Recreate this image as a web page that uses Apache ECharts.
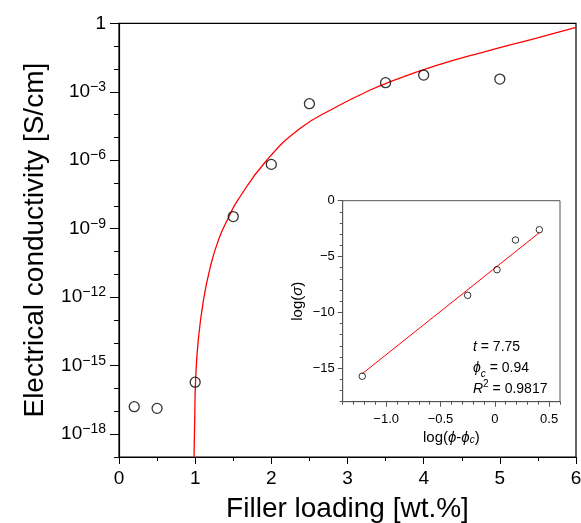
<!DOCTYPE html>
<html>
<head>
<meta charset="utf-8">
<script src="https://cdn.jsdelivr.net/npm/echarts@6/dist/echarts.min.js"></script>
<style>
  html, body { margin: 0; padding: 0; background: #fff; }
  #chart { width: 581px; height: 523px; }
</style>
</head>
<body>
<div id="chart"></div>
<script>
// Measured conductivity [S/cm] vs filler loading [wt.%]
const fillerLoading = [0.2, 0.5, 1.0, 1.5, 2.0, 2.5, 3.5, 4.0, 5.0];
const conductivity = [1.6e-17, 1.35e-17, 1.9e-16, 3.4e-9, 6.6e-7, 3.0e-4, 2.5e-3, 5.4e-3, 3.6e-3];

// Percolation fit curve, sampled along the loading axis
const fitLoading = [0.985, 0.995, 1.005, 1.04, 1.11, 1.20, 1.31, 1.44, 1.56, 1.94, 2.38, 2.82, 3.25, 3.50, 4.15, 4.81, 5.47, 6.00];
const fitConductivity = [1e-19, 6.3e-18, 2.0e-16, 1.26e-14, 7.9e-13, 2.2e-11, 3.5e-10, 3.2e-9, 1.8e-8, 1.0e-6, 2.5e-5, 1.9e-4, 1.0e-3, 2.3e-3, 1.35e-2, 5.8e-2, 0.22, 0.66];

// Axis ranges / ticks
const xTicks = [0, 1, 2, 3, 4, 5, 6];
const yMajorExponents = [-18, -15, -12, -9, -6, -3, 0];
const yMinConductivity = 1e-19;
const yMaxConductivity = 1;

// Inset: log-log percolation plot
const insetLogPhi = [-1.22, -0.25, 0.02, 0.19, 0.41];
const insetLogSigma = [-15.72, -8.47, -6.18, -3.52, -2.60];
const fitT = 7.75;
const fitPhiC = 0.94;
const fitR2 = 0.9817;
const fitIntercept = -6.04;
const fitLineLogPhi = [-1.22, 0.41];
const insetXTicks = [-1.0, -0.5, 0, 0.5];
const insetYTicks = [-15, -10, -5, 0];

const FONT = '"Liberation Sans", Arial, Helvetica, sans-serif';

// main plot box
const main = { left: 119, top: 23.3, width: 457, height: 433.7 };
const mainExpSpan = Math.log10(yMaxConductivity) - Math.log10(yMinConductivity);
const majorSpan = yMajorExponents[yMajorExponents.length - 1] - yMajorExponents[0];
// inset plot box
const inset = { left: 342.7, top: 200.7, width: 217.3, height: 201 };
const insetXMin = -1.4, insetXMax = 0.6, insetYMin = -18, insetYMax = 0;

function box(b, extra) {
  return Object.assign({
    left: b.left, top: b.top, width: b.width, height: b.height,
    containLabel: false, outerBoundsMode: 'none'
  }, extra || {});
}

const minus = v => (v < 0 ? '\u2212' : '');

const fitLineData = fitLineLogPhi.map(x => [x, fitIntercept + fitT * x]);

const chart = echarts.init(document.getElementById('chart'), null, { renderer: 'canvas' });

const option = {
  animation: false,
  backgroundColor: '#fff',
  textStyle: { fontFamily: FONT, color: '#000' },
  grid: [
    // 0: main plot
    box(main, { show: true, borderColor: '#000', borderWidth: 1.2, backgroundColor: 'transparent' }),
    // 1: main y major ticks + labels (spans -18 .. 0)
    box({ left: main.left, top: main.top, width: main.width,
          height: main.height * majorSpan / mainExpSpan }),
    // 2: inset plot
    box(inset, { show: true, borderColor: '#555', borderWidth: 1, backgroundColor: '#fff' }),
    // 3: inset x major ticks + labels (spans -1.0 .. 0.5)
    box({ left: inset.left + inset.width * (insetXTicks[0] - insetXMin) / (insetXMax - insetXMin),
          top: inset.top,
          width: inset.width * (insetXTicks[insetXTicks.length - 1] - insetXTicks[0]) / (insetXMax - insetXMin),
          height: inset.height }),
    // 4: inset y major ticks + labels (spans -15 .. 0)
    box({ left: inset.left, top: inset.top, width: inset.width,
          height: inset.height * (insetYMax - insetYTicks[0]) / (insetYMax - insetYMin) })
  ],
  xAxis: [
    {
      gridIndex: 0, type: 'value', min: xTicks[0], max: xTicks[xTicks.length - 1], interval: 1,
      name: 'Filler loading [wt.%]', nameLocation: 'middle', nameGap: 38,
      nameTextStyle: { fontSize: 28, fontFamily: FONT, color: '#000' },
      axisLine: { onZero: false, lineStyle: { color: '#000', width: 1.2 } },
      axisTick: { length: 7, lineStyle: { color: '#000', width: 1 } },
      minorTick: { show: true, splitNumber: 2, length: 4, lineStyle: { color: '#000', width: 1 } },
      axisLabel: { fontSize: 19, margin: 12, color: '#000', fontFamily: FONT },
      splitLine: { show: false }
    },
    { gridIndex: 1, type: 'value', min: 0, max: 1, show: false },
    {
      gridIndex: 2, type: 'value', min: insetXMin, max: insetXMax, interval: 0.1,
      name: '{t|log(}{i|ϕ}{t|-}{i|ϕ}{s|c}{t|)}', nameLocation: 'middle', nameGap: 28,
      nameTextStyle: {
        fontFamily: FONT, color: '#000', fontSize: 15,
        rich: {
          t: { fontSize: 15, fontFamily: FONT, lineHeight: 16 },
          i: { fontSize: 15, fontFamily: FONT, fontStyle: 'italic', lineHeight: 16 },
          s: { fontSize: 10, fontFamily: FONT, fontStyle: 'italic', lineHeight: 10, verticalAlign: 'bottom' }
        }
      },
      axisLine: { onZero: false, lineStyle: { color: '#555', width: 1 } },
      axisTick: { length: 3, lineStyle: { color: '#555', width: 1 } },
      axisLabel: { show: false },
      splitLine: { show: false }
    },
    {
      gridIndex: 3, type: 'value', min: insetXTicks[0], max: insetXTicks[insetXTicks.length - 1], interval: 0.5,
      axisLine: { show: false, onZero: false },
      axisTick: { length: 5, lineStyle: { color: '#555', width: 1 } },
      axisLabel: {
        fontSize: 13, margin: 11, color: '#000', fontFamily: FONT,
        formatter: v => (v === 0 ? '0' : minus(v) + Math.abs(v).toFixed(1))
      },
      splitLine: { show: false }
    },
    { gridIndex: 4, type: 'value', min: 0, max: 1, show: false }
  ],
  yAxis: [
    {
      gridIndex: 0, type: 'log', logBase: 10, min: yMinConductivity, max: yMaxConductivity, interval: 1,
      name: 'Electrical conductivity [S/cm]', nameLocation: 'middle', nameGap: 70,
      nameTextStyle: { fontSize: 28, fontFamily: FONT, color: '#000' },
      axisLine: { onZero: false, lineStyle: { color: '#000', width: 1.2 } },
      axisTick: { length: 5, lineStyle: { color: '#000', width: 1 } },
      axisLabel: { show: false },
      splitLine: { show: false }
    },
    {
      gridIndex: 1, type: 'value', min: yMajorExponents[0], max: yMajorExponents[yMajorExponents.length - 1], interval: 3,
      axisLine: { show: false, onZero: false },
      axisTick: { length: 9, lineStyle: { color: '#000', width: 1 } },
      axisLabel: {
        margin: 13, color: '#000', fontFamily: FONT,
        formatter: v => (v === 0 ? '{b|1}' : '{b|10}{s|' + minus(v) + Math.abs(v) + '}'),
        rich: {
          b: { fontSize: 19, fontFamily: FONT, lineHeight: 24, color: '#000' },
          s: { fontSize: 14, fontFamily: FONT, lineHeight: 13, verticalAlign: 'top', color: '#000' }
        }
      },
      splitLine: { show: false }
    },
    { gridIndex: 3, type: 'value', min: 0, max: 1, show: false },
    {
      gridIndex: 2, type: 'value', min: insetYMin, max: insetYMax, interval: 1,
      name: '{t|log(}{i|σ}{t|)}', nameLocation: 'middle', nameGap: 37,
      nameTextStyle: {
        fontFamily: FONT, color: '#000', fontSize: 15,
        rich: {
          t: { fontSize: 15, fontFamily: FONT, lineHeight: 16 },
          i: { fontSize: 15, fontFamily: FONT, fontStyle: 'italic', lineHeight: 16 }
        }
      },
      axisLine: { onZero: false, lineStyle: { color: '#555', width: 1 } },
      axisTick: { length: 3, lineStyle: { color: '#555', width: 1 } },
      axisLabel: { show: false },
      splitLine: { show: false }
    },
    {
      gridIndex: 4, type: 'value', min: insetYTicks[0], max: insetYTicks[insetYTicks.length - 1], interval: 5,
      axisLine: { show: false, onZero: false },
      axisTick: { length: 5, lineStyle: { color: '#555', width: 1 } },
      axisLabel: {
        fontSize: 13, margin: 8, color: '#000', fontFamily: FONT,
        formatter: v => (v === 0 ? '0' : minus(v) + Math.abs(v))
      },
      splitLine: { show: false }
    }
  ],
  graphic: [
    {
      type: 'text', left: 473, top: 337, z: 100,
      style: {
        text: '{i|t} = ' + fitT.toFixed(2) + '\n{i|ϕ}{s|c} = ' + fitPhiC.toFixed(2) + '\n{i|R}{p|2} = ' + fitR2.toFixed(4),
        fontFamily: FONT, fontSize: 14, lineHeight: 21, fill: '#000',
        rich: {
          i: { fontFamily: FONT, fontSize: 14, fontStyle: 'italic', lineHeight: 21 },
          s: { fontFamily: FONT, fontSize: 10, fontStyle: 'italic', lineHeight: 12, verticalAlign: 'bottom' },
          p: { fontFamily: FONT, fontSize: 10, lineHeight: 12, verticalAlign: 'top' }
        }
      }
    }
  ],
  series: [
    {
      name: 'fit', type: 'line', xAxisIndex: 0, yAxisIndex: 0,
      data: fitLoading.map((x, i) => [x, fitConductivity[i]]),
      smooth: 0.5, showSymbol: false, symbol: 'none',
      clip: true,
      lineStyle: { color: '#ff0000', width: 1.3 }, z: 2
    },
    {
      name: 'measured', type: 'scatter', xAxisIndex: 0, yAxisIndex: 0,
      data: fillerLoading.map((x, i) => [x, conductivity[i]]),
      symbol: 'circle', symbolSize: 10,
      itemStyle: { color: 'rgba(0,0,0,0)', borderColor: '#000', borderWidth: 1.3 }, z: 3
    },
    {
      name: 'inset fit', type: 'line', xAxisIndex: 2, yAxisIndex: 3,
      data: fitLineData, showSymbol: false, symbol: 'none',
      lineStyle: { color: '#ff0000', width: 1 }, z: 4
    },
    {
      name: 'inset measured', type: 'scatter', xAxisIndex: 2, yAxisIndex: 3,
      data: insetLogPhi.map((x, i) => [x, insetLogSigma[i]]),
      symbol: 'circle', symbolSize: 6.5,
      itemStyle: { color: 'rgba(0,0,0,0)', borderColor: '#000', borderWidth: 1 }, z: 5
    }
  ]
};

chart.setOption(option);
</script>
</body>
</html>
